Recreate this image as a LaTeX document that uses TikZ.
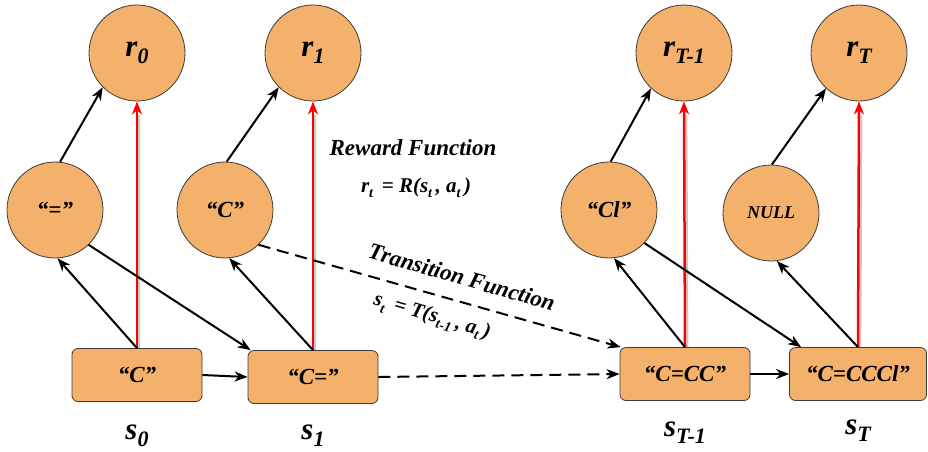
\documentclass[tikz,border=0pt]{standalone}
\usepackage{fontspec}
\setmainfont{Liberation Serif}
\usetikzlibrary{arrows.meta}
\definecolor{orng}{HTML}{F4B16B}
\definecolor{rim}{HTML}{3A3A3A}
\newcommand{\fs}[1]{\fontsize{#1}{#1}\selectfont}
\newcommand{\lowsub}[3]{\raisebox{-#1}{\fs{#2}#3}}
\begin{document}
\begin{tikzpicture}[x=1pt,y=-1pt,font=\bfseries\itshape,
  circ/.style={circle, draw=rim, fill=orng, line width=0.8pt, minimum size=96pt, inner sep=0pt},
  stbox/.style={rectangle, rounded corners=6pt, draw=rim, fill=orng, line width=0.8pt, minimum width=130pt, minimum height=53pt, inner sep=0pt},
  arr/.style={-{Stealth[length=13pt,width=10pt,inset=4pt]}, line width=2pt},
  redarr/.style={-{Stealth[length=13pt,width=10pt,inset=4pt]}, line width=2.5pt, red},
  shadowline/.style={line width=2pt, black!22},
  darr/.style={arr, dash pattern=on 12pt off 7pt},
  lbl/.style={inner sep=0pt}]
\useasboundingbox (0,0) rectangle (928,451);
% reward circles
\node[circ] (r0) at (137,53) {{\fs{31}r}\lowsub{7pt}{22}{0}};
\node[circ] (r1) at (313,53) {{\fs{31}r}\lowsub{7pt}{22}{1}};
\node[circ] (r2) at (684,53) {{\fs{31}r}\lowsub{7pt}{22}{T-1}};
\node[circ] (r3) at (859,53) {{\fs{31}r}\lowsub{7pt}{22}{T}};
% action circles
\node[circ] (a0) at (55,210) {\fs{23}“=”};
\node[circ] (a1) at (225,210) {\fs{23}“C”};
\node[circ] (a2) at (609,210) {\fs{23}“Cl”};
\node[circ] (a3) at (771,213) {\fs{18}NULL};
% state boxes
\node[stbox] (b0) at (137,375) {\fs{23}“C”};
\node[stbox] (b1) at (313,377) {\fs{23}“C=”};
\node[stbox] (b2) at (685,374) {\fs{23}“C=CC”};
\node[stbox, minimum width=137pt] (b3) at (858,374) {\fs{23}“C=CCCl”};
% state labels
\node[lbl] (s0) at (137,436) {{\fs{31}s}\lowsub{7pt}{22}{0}};
\node[lbl] (s1) at (313,436) {{\fs{31}s}\lowsub{7pt}{22}{1}};
\node[lbl] (s2) at (685,433) {{\fs{31}s}\lowsub{7pt}{22}{T-1}};
\node[lbl] (s3) at (858,431) {{\fs{31}s}\lowsub{7pt}{22}{T}};
% reward function text
\node[lbl] (rf) at (413,148) {\fs{23}Reward Function};
\node[lbl] (rfe) at (416,188) {\fs{21}r\lowsub{5pt}{14}{t}\, = R(s\lowsub{5pt}{14}{t}\,, a\lowsub{5pt}{14}{t}\,)};
% transition function text
\node[lbl, rotate=-16] (tf) at (462,277) {\fs{23}Transition Function};
\node[lbl, rotate=-16] (tfe) at (432,317) {\fs{21}s\lowsub{5pt}{14}{t}\, = T(s\lowsub{5pt}{14}{t-1}\,, a\lowsub{5pt}{14}{t}\,)};
% red reward arrows with faint shadow
\foreach \b/\r in {b0/r0,b1/r1,b2/r2,b3/r3}{
  \draw[shadowline] ([xshift=2.4pt]\b.north) -- ([xshift=2.4pt,yshift=-14pt]\r.south);
  \draw[redarr] (\b.north) -- (\r.south);
}
% action to reward
\draw[arr] (a0.84) -- (r0.225);
\draw[arr] (a1.88) -- (r1.225);
\draw[arr] (a2.88) -- (r2.227);
\draw[arr] (a3.89) -- (r3.227);
% state to action
\draw[arr] (b0.north) -- (a0.273);
\draw[arr] (b1.north) -- (a1.275);
\draw[arr] (b2.north) -- (a2.276);
\draw[arr] (b3.north) -- (a3.277);
% action to next state
\draw[arr] (a0.314) -- ([xshift=3pt]b1.north west);
\draw[darr] (a1.314) -- ([xshift=1pt]b2.north west);
\draw[arr] (a2.317) -- ([xshift=12pt]b3.north west);
% state to state
\draw[arr] (b0.east) -- (b1.west);
\draw[darr] (b1.east) -- (b2.west);
\draw[arr] (b2.east) -- (b3.west);
\end{tikzpicture}
\end{document}
